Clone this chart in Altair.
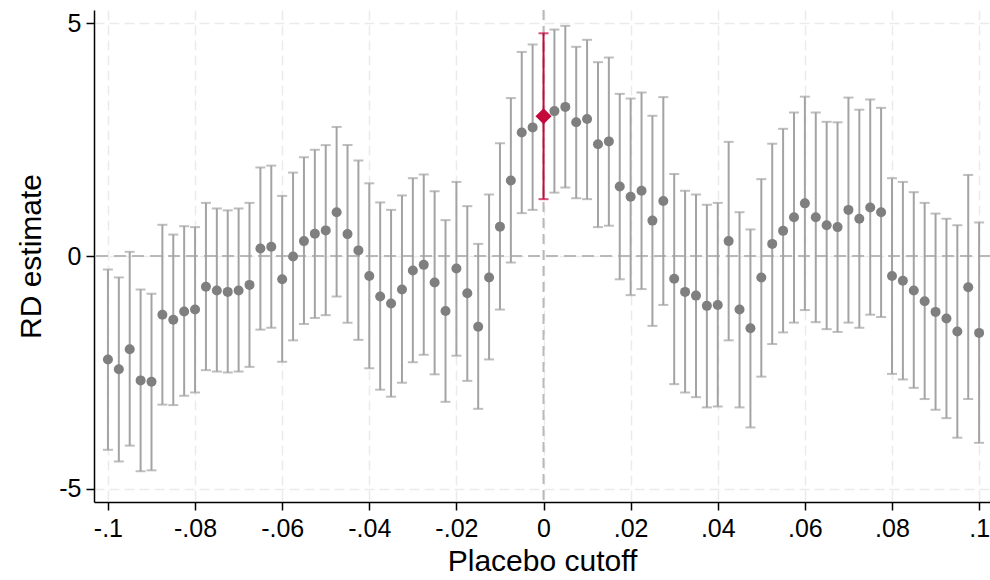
import altair as alt
import pandas as pd

# Placebo cutoffs and RD point estimates with 95% confidence bounds
cutoffs = [
    -0.1, -0.0975, -0.095, -0.0925, -0.09, -0.0875, -0.085, -0.0825,
    -0.08, -0.0775, -0.075, -0.0725, -0.07, -0.0675, -0.065, -0.0625,
    -0.06, -0.0575, -0.055, -0.0525, -0.05, -0.0475, -0.045, -0.0425,
    -0.04, -0.0375, -0.035, -0.0325, -0.03, -0.0275, -0.025, -0.0225,
    -0.02, -0.0175, -0.015, -0.0125, -0.01, -0.0075, -0.005, -0.0025,
    0.0,
    0.0025, 0.005, 0.0075, 0.01, 0.0125, 0.015, 0.0175, 0.02,
    0.0225, 0.025, 0.0275, 0.03, 0.0325, 0.035, 0.0375, 0.04,
    0.0425, 0.045, 0.0475, 0.05, 0.0525, 0.055, 0.0575, 0.06,
    0.0625, 0.065, 0.0675, 0.07, 0.0725, 0.075, 0.0775, 0.08,
    0.0825, 0.085, 0.0875, 0.09, 0.0925, 0.095, 0.0975, 0.1,
]

estimates = [
    -2.22, -2.43, -2.00, -2.67, -2.70, -1.26, -1.37, -1.19,
    -1.15, -0.66, -0.74, -0.77, -0.74, -0.62, 0.16, 0.20,
    -0.50, -0.01, 0.32, 0.48, 0.55, 0.94, 0.47, 0.12,
    -0.43, -0.87, -1.02, -0.72, -0.31, -0.19, -0.57, -1.18,
    -0.27, -0.80, -1.52, -0.46, 0.63, 1.62, 2.65, 2.76,
    3.00,
    3.11, 3.20, 2.87, 2.94, 2.40, 2.46, 1.49, 1.27,
    1.40, 0.76, 1.18, -0.49, -0.77, -0.85, -1.07, -1.05,
    0.32, -1.15, -1.55, -0.46, 0.26, 0.54, 0.83, 1.13,
    0.83, 0.66, 0.62, 0.99, 0.80, 1.04, 0.94, -0.43,
    -0.53, -0.74, -0.97, -1.20, -1.34, -1.62, -0.67, -1.65,
]

ci_upper = [
    -0.29, -0.46, 0.09, -0.72, -0.81, 0.67, 0.46, 0.64,
    0.62, 1.14, 1.02, 0.98, 1.02, 1.14, 1.90, 1.94,
    1.29, 1.79, 2.12, 2.28, 2.38, 2.77, 2.38, 2.05,
    1.56, 1.15, 0.99, 1.30, 1.67, 1.75, 1.39, 0.77,
    1.59, 1.07, 0.26, 1.32, 2.42, 3.39, 4.38, 4.54,
    4.78,
    4.86, 4.94, 4.49, 4.64, 4.16, 4.26, 3.48, 3.38,
    3.51, 3.01, 3.41, 1.76, 1.40, 1.32, 1.10, 1.14,
    2.45, 0.94, 0.57, 1.65, 2.41, 2.73, 3.08, 3.42,
    3.08, 2.88, 2.87, 3.40, 3.14, 3.36, 3.18, 1.67,
    1.59, 1.37, 1.14, 0.91, 0.80, 0.66, 1.74, 0.72,
]

ci_lower = [
    -4.16, -4.41, -4.07, -4.62, -4.60, -3.19, -3.20, -3.00,
    -2.93, -2.45, -2.48, -2.50, -2.48, -2.38, -1.58, -1.54,
    -2.27, -1.81, -1.46, -1.33, -1.27, -0.87, -1.43, -1.80,
    -2.41, -2.87, -3.02, -2.72, -2.28, -2.12, -2.54, -3.13,
    -2.14, -2.68, -3.28, -2.22, -1.15, -0.14, 0.92, 0.99,
    1.22,
    1.36, 1.47, 1.24, 1.22, 0.62, 0.65, -0.50, -0.84,
    -0.71, -1.50, -1.05, -2.75, -2.93, -3.03, -3.25, -3.23,
    -1.81, -3.25, -3.68, -2.59, -1.89, -1.64, -1.43, -1.16,
    -1.42, -1.57, -1.63, -1.43, -1.54, -1.26, -1.31, -2.53,
    -2.65, -2.83, -3.07, -3.30, -3.48, -3.90, -3.07, -4.01,
]

x_ticks = [-0.1, -0.08, -0.06, -0.04, -0.02, 0.0, 0.02, 0.04, 0.06, 0.08, 0.1]
y_ticks = [-5, 0, 5]

df = pd.DataFrame({"cutoff": cutoffs, "est": estimates, "lo": ci_lower, "hi": ci_upper})
df["actual"] = df["cutoff"] == 0.0
placebo = df[~df["actual"]]
actual = df[df["actual"]]

FONT = "Liberation Sans"
GRAY_BAR = "#a3a3a3"
GRAY_DOT = "#7f7f7f"
RED = "#c40a3a"

x_scale = alt.Scale(domain=[-0.1032, 0.1025], nice=False, zero=False)
y_scale = alt.Scale(domain=[-5.28, 5.28], nice=False, zero=False)

x_axis = alt.Axis(
    values=x_ticks,
    labelExpr="(datum.value < 0 ? '-' : '') + replace(format(abs(datum.value), '.2~f'), '0.', '.')",
    title="Placebo cutoff",
    grid=True,
)
y_axis = alt.Axis(
    values=y_ticks,
    labelExpr="(datum.value < 0 ? '-' : '') + format(abs(datum.value), 'd')",
    title="RD estimate",
    grid=True,
)

base = alt.Chart(placebo)

# Zero reference lines
zero_h = alt.Chart(pd.DataFrame({"y": [0]})).mark_rule(
    color="#b9b9b9", strokeWidth=2, strokeDash=[12, 6]
).encode(y=alt.Y("y:Q", scale=y_scale, axis=y_axis))

zero_v = alt.Chart(pd.DataFrame({"x": [0.0]})).mark_rule(
    color="#b9b9b9", strokeWidth=2, strokeDash=[10, 6]
).encode(x=alt.X("x:Q", scale=x_scale, axis=x_axis))

# Placebo estimates: whiskers, caps and points
bars = base.mark_rule(color=GRAY_BAR, strokeWidth=2).encode(
    x=alt.X("cutoff:Q", scale=x_scale, axis=x_axis),
    y=alt.Y("lo:Q", scale=y_scale, axis=y_axis),
    y2="hi:Q",
)
cap_hi = base.mark_tick(color=GRAY_BAR, thickness=2, size=10, orient="horizontal").encode(
    x=alt.X("cutoff:Q", scale=x_scale), y=alt.Y("hi:Q", scale=y_scale)
)
cap_lo = base.mark_tick(color=GRAY_BAR, thickness=2, size=10, orient="horizontal").encode(
    x=alt.X("cutoff:Q", scale=x_scale), y=alt.Y("lo:Q", scale=y_scale)
)
dots = base.mark_point(shape="circle", filled=True, color=GRAY_DOT, size=100, opacity=1).encode(
    x=alt.X("cutoff:Q", scale=x_scale), y=alt.Y("est:Q", scale=y_scale)
)

# Estimate at the true cutoff
act = alt.Chart(actual)
red_bar = act.mark_rule(color=RED, strokeWidth=2).encode(
    x=alt.X("cutoff:Q", scale=x_scale), y=alt.Y("lo:Q", scale=y_scale), y2="hi:Q"
)
red_hi = act.mark_tick(color=RED, thickness=2, size=10, orient="horizontal").encode(
    x=alt.X("cutoff:Q", scale=x_scale), y=alt.Y("hi:Q", scale=y_scale)
)
red_lo = act.mark_tick(color=RED, thickness=2, size=10, orient="horizontal").encode(
    x=alt.X("cutoff:Q", scale=x_scale), y=alt.Y("lo:Q", scale=y_scale)
)
red_pt = act.mark_point(shape="diamond", filled=True, color=RED, size=260, opacity=1).encode(
    x=alt.X("cutoff:Q", scale=x_scale), y=alt.Y("est:Q", scale=y_scale)
)

chart = (
    alt.layer(zero_h, zero_v, bars, cap_hi, cap_lo, dots, red_bar, red_hi, red_lo, red_pt)
    .properties(
        width=896,
        height=492,
        autosize=alt.AutoSizeParams(type="none"),
        padding={"left": 94, "top": 10, "right": 0, "bottom": 78},
        background="white",
    )
    .configure_view(stroke=None)
    .configure_axis(
        labelFont=FONT,
        titleFont=FONT,
        labelFontSize=25,
        titleFontSize=30,
        titleFontWeight="normal",
        labelColor="black",
        titleColor="black",
        domainColor="black",
        domainWidth=1.5,
        tickColor="black",
        tickWidth=1.5,
        tickSize=8,
        gridColor="#ebebeb",
        gridWidth=1.5,
        gridDash=[10, 5],
    )
    .configure_axisX(labelPadding=6, titlePadding=5)
    .configure_axisY(labelPadding=5, titlePadding=12)
)

chart.save("out.html", embed_options={"renderer": "svg", "actions": False})
